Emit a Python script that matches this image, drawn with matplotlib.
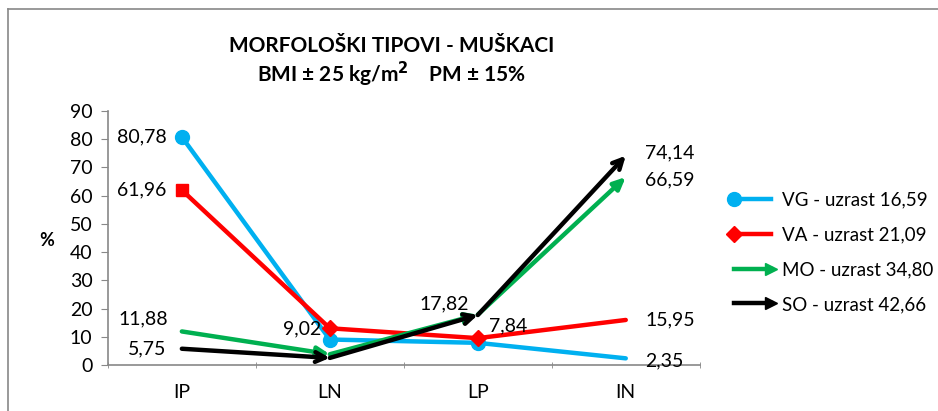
import matplotlib.pyplot as plt
from matplotlib.lines import Line2D
from matplotlib.legend_handler import HandlerLine2D
import numpy as np

# data
categories = ["IP", "LN", "LP", "IN"]
vg = [80.78, 9.02, 7.84, 2.35]
va = [61.96, 13.0, 9.5, 15.95]
mo = [11.88, 3.8, 17.82, 66.59]
so = [5.75, 2.5, 17.7, 74.14]

series_names = ["VG - uzrast 16,59", "VA - uzrast 21,09",
                "MO - uzrast 34,80", "SO - uzrast 42,66"]

# which points carry a value label: (series index, point index, text)
labels = [(0, 0, "80,78"), (1, 0, "61,96"), (2, 0, "11,88"), (3, 0, "5,75"),
          (0, 1, "9,02"), (2, 2, "17,82"), (0, 2, "7,84"),
          (3, 3, "74,14"), (2, 3, "66,59"), (1, 3, "15,95"), (0, 3, "2,35")]

plt.rcParams['font.family'] = ['Lato', 'DejaVu Sans']

blue = "#00B0F0"
red = "#FF0000"
green = "#00B050"
black = "#000000"


class EndMarker(HandlerLine2D):
    # legend line with the marker only on one end
    def __init__(self, end, **kw):
        super().__init__(numpoints=2, **kw)
        self.end = end

    def create_artists(self, *args, **kw):
        arts = super().create_artists(*args, **kw)
        for a in arts:
            if len(a.get_xdata()) == 2 and a.get_marker() not in (None, 'None', ''):
                a.set_markevery([self.end])
        return arts


fig = plt.figure(figsize=(9.38, 4.11), dpi=100)
ax = fig.add_axes([0.115, 0.112, 0.631, 0.618])

x = np.arange(len(categories))
lw = 3.2

# blue line with circles (not at last point)
ax.plot(x, vg, color=blue, lw=lw, solid_capstyle='round', zorder=3)
ax.plot(x[:3], vg[:3], 'o', color=blue, ms=10, zorder=4)

# red line with square then diamonds
ax.plot(x, va, color=red, lw=lw, solid_capstyle='round', zorder=3)
ax.plot(x[:1], va[:1], 's', color=red, ms=8, zorder=4)
ax.plot(x[1:3], va[1:3], 'D', color=red, ms=8, zorder=4)

# green and black: arrow at the end of each segment
for vals, col, style in [(mo, green, "-|>,head_length=0.7,head_width=0.32"),
                         (so, black, "->,head_length=0.7,head_width=0.35")]:
    for i in range(len(x) - 1):
        ax.annotate("", xy=(x[i + 1], vals[i + 1]), xytext=(x[i], vals[i]),
                    arrowprops=dict(arrowstyle=style, color=col, lw=lw,
                                    shrinkA=0, shrinkB=0, capstyle='round'),
                    zorder=5)

allvals = [vg, va, mo, so]
fs = 14
for si, pi, txt in labels:
    v = allvals[si][pi]
    if pi == 0:
        dx, dy, ha = -11, 0, 'right'
        if si == 2:
            dx, dy = -10, 9
    elif pi == 3:
        dx, dy, ha = 14, 0, 'left'
        if si == 3:
            dx, dy = 14, 2
        if si == 2:
            dx, dy = 14, -2
        if si == 0:
            dx, dy = 14, -2
    else:
        dx, dy, ha = -6, 8, 'right'
        if si == 0 and pi == 2:
            dx, dy, ha = 8, 12, 'left'
    ax.annotate(txt, xy=(x[pi], v), xytext=(dx, dy), textcoords='offset points',
                ha=ha, va='center', fontsize=fs)

ax.set_xlim(-0.5, 3.5)
ax.set_ylim(0, 90)
ax.set_yticks(np.arange(0, 91, 10))
ax.set_xticks(x)
ax.set_xticklabels(categories)
ax.set_xticks(np.arange(-0.5, 3.6, 1), minor=True)
ax.tick_params(axis='x', which='major', length=0, pad=14, labelsize=fs)
ax.tick_params(axis='x', which='minor', length=5, color='#888888', direction='inout')
ax.tick_params(axis='y', length=5, color='#888888', labelsize=fs, pad=6)
for s in ['top', 'right']:
    ax.spines[s].set_visible(False)
ax.spines['left'].set_color('#888888')
ax.spines['bottom'].set_color('#888888')
ax.spines['left'].set_linewidth(1.2)
ax.spines['bottom'].set_linewidth(1.2)

fig.text(0.050, 0.416, "%", fontsize=13, fontweight='bold', ha='center', va='center')

fig.text(0.418, 0.888, "MORFOLOŠKI TIPOVI - MUŠKACI", fontsize=15,
         fontweight='bold', ha='center', va='center')
fig.text(0.418, 0.820, "BMI ± 25 kg/m$^\\mathbf{2}$    PM ± 15%", fontsize=15,
         fontweight='bold', ha='center', va='center')

# legend
handles = [
    Line2D([0], [0], color=blue, lw=lw, marker='o', ms=10),
    Line2D([0], [0], color=red, lw=lw, marker='D', ms=8),
    Line2D([0], [0], color=green, lw=lw, marker='>', ms=9),
    Line2D([0], [0], color=black, lw=lw, marker='>', ms=9),
]
hmap = {handles[0]: EndMarker(0), handles[1]: EndMarker(0),
        handles[2]: EndMarker(1), handles[3]: EndMarker(1)}
fig.legend(handles, series_names, loc='upper left', bbox_to_anchor=(0.758, 0.575),
           frameon=False, fontsize=13.5, handlelength=2.6, labelspacing=0.95,
           handletextpad=0.3, handler_map=hmap)

# frame lines (top and left)
fig.add_artist(Line2D([0.0085, 1.0], [0.978, 0.978], color='#888888', lw=1.2,
                      transform=fig.transFigure))
fig.add_artist(Line2D([0.0085, 0.0085], [0.0, 0.978], color='#888888', lw=1.2,
                      transform=fig.transFigure))

fig.savefig("out.png", dpi=100)
